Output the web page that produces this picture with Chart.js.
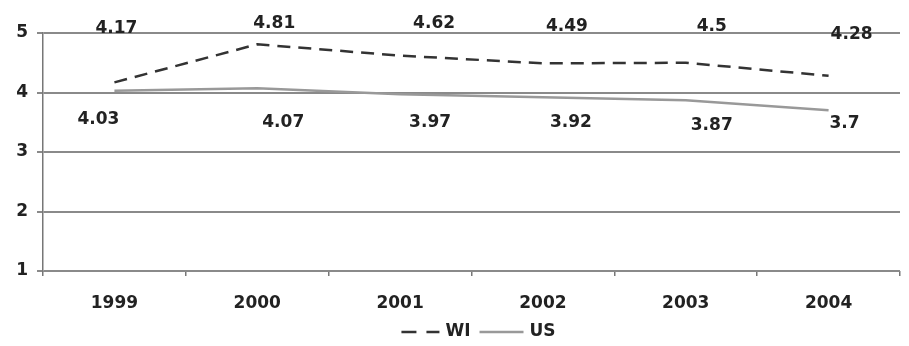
<!DOCTYPE html>
<html>
<head>
<meta charset="utf-8">
<script src="https://cdn.jsdelivr.net/npm/chart.js@4/dist/chart.umd.min.js"></script>
<style>
  html, body { margin: 0; padding: 0; background: #fff; }
  #wrap { width: 909px; height: 346px; }
</style>
</head>
<body>
<div id="wrap"><canvas id="c" width="909" height="346"></canvas></div>
<script>
const categories = ['1999', '2000', '2001', '2002', '2003', '2004'];
const wiValues = [4.17, 4.81, 4.62, 4.49, 4.5, 4.28];
const usValues = [4.03, 4.07, 3.97, 3.92, 3.87, 3.7];
const yTicks = [1, 2, 3, 4, 5];

// label placement (style only): pixel offsets from category center, and label row in axis units
const wiLabelDx = [2, 17, 34, 24, 26, 23];
const wiLabelRow = [5.08, 5.16, 5.16, 5.1, 5.1, 4.97];
const usLabelDx = [-16, 26, 30, 28, 26, 16];
const usLabelRow = [3.55, 3.5, 3.5, 3.5, 3.45, 3.47];

const FONT = '"DejaVu Sans", Verdana, sans-serif';

const labelPlugin = {
  id: 'valueLabels',
  afterDatasetsDraw(chart) {
    const ctx = chart.ctx;
    const xs = chart.scales.x, ys = chart.scales.y;
    ctx.save();
    ctx.font = 'bold 17px ' + FONT;
    ctx.fillStyle = '#222';
    ctx.textAlign = 'center';
    ctx.textBaseline = 'middle';
    wiValues.forEach((v, i) => {
      ctx.fillText(String(v), xs.getPixelForValue(i) + wiLabelDx[i], ys.getPixelForValue(wiLabelRow[i]));
    });
    usValues.forEach((v, i) => {
      ctx.fillText(String(v), xs.getPixelForValue(i) + usLabelDx[i], ys.getPixelForValue(usLabelRow[i]));
    });
    ctx.restore();
  }
};

// custom legend drawn below the axis, centered slightly right of the plot center
const legendPlugin = {
  id: 'customLegend',
  afterDraw(chart) {
    const ctx = chart.ctx;
    const area = chart.chartArea;
    const ds = chart.data.datasets;
    ctx.save();
    ctx.font = 'bold 17px ' + FONT;
    ctx.textBaseline = 'middle';
    ctx.textAlign = 'left';
    const lineW = [38, 44];
    const gapLT = 6, gapItems = 9;
    let total = 0;
    ds.forEach((d, i) => {
      total += lineW[i] + gapLT + ctx.measureText(d.label).width;
      if (i < ds.length - 1) total += gapItems;
    });
    let x = (area.left + area.right) / 2 + 7 - total / 2;
    const y = chart.height - 14;
    ds.forEach((d, i) => {
      ctx.beginPath();
      ctx.strokeStyle = d.borderColor;
      ctx.lineWidth = 2.5;
      ctx.setLineDash(d.borderDash ? [15, 10] : []);
      ctx.moveTo(x, y);
      ctx.lineTo(x + lineW[i], y);
      ctx.stroke();
      ctx.setLineDash([]);
      x += lineW[i] + gapLT;
      ctx.fillStyle = '#222';
      ctx.fillText(d.label, x, y);
      x += ctx.measureText(d.label).width + gapItems;
    });
    ctx.restore();
  }
};

new Chart(document.getElementById('c'), {
  type: 'line',
  data: {
    labels: categories,
    datasets: [
      {
        label: 'WI',
        data: wiValues,
        borderColor: '#333',
        borderWidth: 2.5,
        borderDash: [13, 8],
        pointRadius: 0,
        tension: 0,
        fill: false
      },
      {
        label: 'US',
        data: usValues,
        borderColor: '#999',
        borderWidth: 2.5,
        pointRadius: 0,
        tension: 0,
        fill: false
      }
    ]
  },
  options: {
    responsive: false,
    animation: false,
    devicePixelRatio: 1,
    layout: { padding: { top: 33, right: 9, bottom: 35, left: 0 } },
    plugins: {
      legend: { display: false },
      tooltip: { enabled: false },
      title: { display: false }
    },
    scales: {
      x: {
        type: 'category',
        offset: true,
        grid: {
          display: true,
          drawOnChartArea: false,
          drawTicks: true,
          tickLength: 5,
          color: '#777',
          lineWidth: 1.5,
          offset: true
        },
        border: { display: false },
        ticks: {
          color: '#222',
          padding: 17,
          maxRotation: 0,
          font: { family: FONT, size: 17, weight: 'bold' }
        },
        afterFit(scale) { scale.height = 40; }
      },
      y: {
        min: 1,
        max: 5,
        afterBuildTicks(scale) { scale.ticks = yTicks.map(v => ({ value: v })); },
        grid: {
          color: '#8a8a8a',
          lineWidth: 2,
          tickLength: 6,
          drawTicks: true
        },
        border: { display: true, color: '#777', width: 1.5 },
        ticks: {
          color: '#222',
          padding: 9,
          font: { family: FONT, size: 17, weight: 'bold' }
        },
        afterFit(scale) { scale.width = 43; }
      }
    }
  },
  plugins: [labelPlugin, legendPlugin]
});
</script>
</body>
</html>
